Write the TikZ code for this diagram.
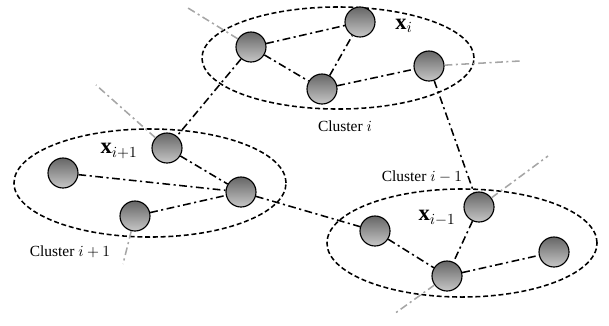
\documentclass[tikz,border=0pt]{standalone}
\usepackage{fontspec}
\setmainfont{Liberation Serif}
\begin{document}
\begin{tikzpicture}[x=0.025cm,y=-0.025cm,
  pt/.style={circle,draw=black,line width=0.8pt,minimum size=0.75cm,inner sep=0pt,
    shading=axis,top color=black!60,bottom color=black!22},
  clusterline/.style={draw=black,line width=1.1pt,dash pattern=on 3.5pt off 2pt},
  link/.style={draw=black,line width=1.1pt,dash pattern=on 5.5pt off 2.5pt on 1.5pt off 2.5pt},
  outlink/.style={draw=black!35,line width=1.1pt,dash pattern=on 5.5pt off 2.5pt on 1.5pt off 2.5pt},
  lbl/.style={font=\fontsize{16}{18}\selectfont,inner sep=1pt},
  ctext/.style={font=\fontsize{11}{13}\selectfont,inner sep=1pt}]
\useasboundingbox (0,0) rectangle (609,325);
% clusters
\draw[clusterline] (338,58) ellipse [x radius=3.4cm, y radius=1.275cm];
\draw[clusterline] (150,183) ellipse [x radius=3.4cm, y radius=1.35cm];
\draw[clusterline] (462,243) ellipse [x radius=3.375cm, y radius=1.35cm];
% nodes cluster i
\node[pt] (A1) at (251,47) {};
\node[pt] (A2) at (360,22) {};
\node[pt] (A3) at (322,89) {};
\node[pt] (A4) at (429,66) {};
% nodes cluster i+1
\node[pt] (B1) at (63,173) {};
\node[pt] (B2) at (167,148) {};
\node[pt] (B3) at (241,192) {};
\node[pt] (B4) at (135,216) {};
% nodes cluster i-1
\node[pt] (C1) at (375,231) {};
\node[pt] (C2) at (479,207) {};
\node[pt] (C3) at (447,276) {};
\node[pt] (C4) at (554,252) {};
% free ends
\coordinate (oA1) at (188,8);
\coordinate (oA4) at (520,61);
\coordinate (oB2) at (96,85);
\coordinate (oB4) at (123,264);
\coordinate (oC2) at (548,156);
\coordinate (oC3) at (394,314);
% outgoing grey links
\draw[outlink] (A1) -- (oA1);
\draw[outlink] (A4) -- (oA4);
\draw[outlink] (B2) -- (oB2);
\draw[outlink] (B4) -- (oB4);
\draw[outlink] (C2) -- (oC2);
\draw[outlink] (C3) -- (oC3);
% links
\draw[link] (A1) -- (A2);
\draw[link] (A1) -- (A3);
\draw[link] (A3) -- (A2);
\draw[link] (A3) -- (A4);
\draw[link] (A1) -- (B2);
\draw[link] (A4) -- (C2);
\draw[link] (B1) -- (B3);
\draw[link] (B2) -- (B3);
\draw[link] (B4) -- (B3);
\draw[link] (B3) -- (C1);
\draw[link] (C1) -- (C3);
\draw[link] (C2) -- (C3);
\draw[link] (C3) -- (C4);
% labels
\node[lbl] (lxi) at (404,26) {$\mathbf{x}_i$};
\node[lbl] (lxip) at (119,151) {$\mathbf{x}_{i+1}$};
\node[lbl] (lxim) at (437,218) {$\mathbf{x}_{i-1}$};
\node[ctext] (ci) at (345,126) {Cluster $i$};
\node[ctext] (cip) at (70,252) {Cluster $i+1$};
\node[ctext] (cim) at (422,177) {Cluster $i-1$};
\end{tikzpicture}
\end{document}
